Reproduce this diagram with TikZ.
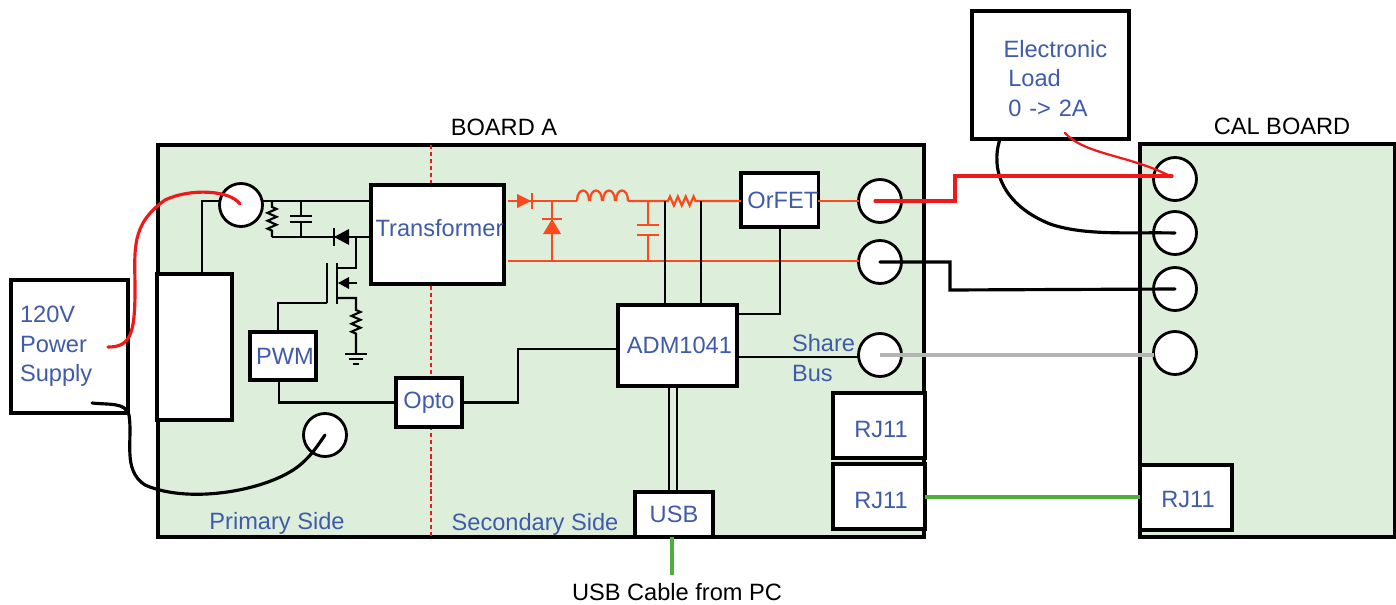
\documentclass[tikz,border=0pt]{standalone}
\usepackage{fontspec}
\setmainfont{Liberation Sans}
\usepackage{tikz}
\usetikzlibrary{arrows.meta,calc,decorations.pathmorphing}
\definecolor{cBoard}{HTML}{DDEFDB}
\definecolor{cBlue}{HTML}{3F5BA9}
\definecolor{cPwr}{HTML}{FA4A1E}
\definecolor{cRed}{HTML}{F01818}
\definecolor{cGreen}{HTML}{4FAE3C}
\definecolor{cGrey}{HTML}{B4B4B4}
\tikzset{
  blk/.style   ={draw=black,fill=white,line width=2.25pt,anchor=north west,inner sep=0pt,
                 align=center,text=cBlue},
  board/.style ={blk,fill=cBoard},
  rj/.style    ={blk,minimum width=92*0.25mm,minimum height=65*0.25mm,text height=17.5pt},
  jack/.style  ={circle,draw=black,fill=white,line width=2pt,minimum size=43*0.25mm,inner sep=0pt},
  lbl/.style   ={inner sep=0pt,text=black},
  blbl/.style  ={inner sep=0pt,text=cBlue},
  wire/.style  ={draw=black,line width=1.5pt},
  pwr/.style   ={draw=cPwr,line width=1.6pt},
  lead/.style  ={line width=2.25pt,line cap=round},
  zz/.style    ={decorate,decoration={zigzag,segment length=5.6pt,amplitude=3.2pt}},
}
\begin{document}
\begin{tikzpicture}[x=0.25mm,y=0.25mm,font=\fontsize{16.8}{21}\selectfont,every node/.style={outer sep=0pt}]
\useasboundingbox (0,0) rectangle (1396,-605);
\node[board,minimum width=766*0.25mm,minimum height=392*0.25mm] (brdA) at (158,-145) {};
\node[board,minimum width=255*0.25mm,minimum height=393*0.25mm] (brdC) at (1140,-144) {};
\node[lbl] (brdAt) at (504,-127) {BOARD A};
\node[lbl] (brdCt) at (1282,-126) {CAL BOARD};
\draw[cRed,densely dashed,line width=1.3pt] (brdA.north -| 431,0) -- (brdA.south -| 431,0);

\node[blk,minimum width=117*0.25mm,minimum height=133*0.25mm,text width=99*0.25mm,align=left] (psu) at (11,-280)
  {120V\\Power\\Supply};
\node[blk,minimum width=75*0.25mm,minimum height=146*0.25mm] (rect) at (157,-274) {};
\node[blk,minimum width=133*0.25mm,minimum height=99*0.25mm,text depth=3.2mm] (xfmr) at (371,-185) {\hspace*{1mm}Transformer};
\node[blk,minimum width=66*0.25mm,minimum height=48*0.25mm] (pwm) at (250,-332) {\hspace*{1mm}PWM};
\node[blk,minimum width=66*0.25mm,minimum height=49*0.25mm] (opto) at (396,-378) {Opto};
\node[blk,minimum width=119*0.25mm,minimum height=81*0.25mm] (adm) at (618,-305) {\hspace*{1mm}ADM1041};
\node[blk,minimum width=77*0.25mm,minimum height=54*0.25mm] (orfet) at (741,-173) {\hspace*{1.6mm}OrFET};
\node[blk,minimum width=78*0.25mm,minimum height=45*0.25mm] (usb) at (635,-492) {USB};
\node[rj] (rjA) at (833,-393) {\hspace*{1mm}RJ11};
\node[rj] (rjB) at (833,-464) {\hspace*{1mm}RJ11};
\node[rj,text height=14pt] (rjC) at (1140,-465) {\hspace*{1mm}RJ11};
\node[blk,minimum width=157*0.25mm,minimum height=128*0.25mm,text width=126*0.25mm,align=left] (eload) at (972,-11)
  {\rule{0pt}{17pt}\hspace*{4mm}Electronic\\\hspace*{5.2mm}Load\\\hspace*{5.2mm}0 -> 2A};

\node[blbl] (sideP) at (277,-523) {Primary Side};
\node[blbl] (sideS) at (535,-524) {Secondary Side};
\node[blbl,align=left,anchor=west] (share) at (792,-358) {Share\\Bus};
\node[lbl] (cable) at (677,-592) {USB Cable from PC};

\node[jack] (jP) at (241,-205) {};
\node[jack] (jN) at (325,-435) {};
\node[jack] (j1) at (880,-201) {};
\node[jack] (j2) at (880,-262) {};
\node[jack] (j3) at (880,-355) {};
\node[jack] (c1) at (1175,-179) {};
\node[jack] (c2) at (1175,-233) {};
\node[jack] (c3) at (1175,-289) {};
\node[jack] (c4) at (1175,-353) {};

% primary side
\coordinate (pR) at (272,-201);
\coordinate (pC) at (301,-201);
\coordinate (pB) at (272,-237);
\coordinate (pD) at (356,-237);
\coordinate (mG) at (327,-303);
\draw[wire] (rect.north -| 202,0) |- (jP.west |- pR);
\draw[wire] (jP.east |- pR) -- (xfmr.west |- pR);
\draw[wire] (pR) -- ++(0,-6) decorate[zz] {-- ++(0,-24)} -- (pB);
\draw[wire] (pC) -- ++(0,-15) ++(-11,0) -- ++(22,0) ++(-22,-6) -- ++(22,0) ++(-11,0) -- (pC |- pB);
\draw[wire] (pB) -- (xfmr.west |- pB);
\fill (334,-237) -- (349,-229) -- (349,-245) -- cycle;
\draw[wire] (334,-228) -- (334,-246);
\draw[wire] (pD) |- (337,-268);
\draw[wire] (337,-263) -- (337,-304);
\draw[wire] (mG |- 0,-263) -- (mG);
\draw[wire] (mG) -| (pwm.north -| 278,0);
\fill (338,-283) -- (349,-277) -- (349,-289) -- cycle;
\draw[wire] (349,-283) -- (357,-283);
\draw[wire] (337,-298) -| (356,-310) decorate[zz] {-- (356,-335)} -- (356,-354);
\draw[wire] (345,-354) -- (367,-354) (349,-359) -- (363,-359) (353,-364) -- (359,-364);
\draw[wire] (pwm.south -| 279,0) |- (opto.west);
\draw[wire] (opto.east) -| (518,-349) -- (adm.west |- 518,-349);

% secondary side
\coordinate (sT) at (508,-201);
\coordinate (sB) at (508,-261);
\draw[pwr] (sT) -- (577,-201);
\fill[cPwr] (531,-201) -- (517,-194) -- (517,-208) -- cycle;
\draw[pwr] (532,-193) -- (532,-209);
\draw[pwr] (552,-201) -- (552,-261);
\fill[cPwr] (552,-219) -- (543,-234) -- (561,-234) -- cycle;
\draw[pwr] (542,-219) -- (562,-219);
\foreach \x in {577,590,603,616}
  {\draw[pwr] (\x,-201) .. controls (\x,-187) and (\x+12,-187) .. (\x+12,-201);}
\draw[pwr] (628,-201) -- (668,-201) decorate[zz] {-- (697,-201)} -- (orfet.west |- 697,-201);
\draw[pwr] (648,-201) -- (648,-225) (637,-225) -- (659,-225) (637,-235) -- (659,-235) (648,-235) -- (648,-261);
\draw[pwr] (orfet.east |- sT) -- (j1.west |- sT);
\draw[pwr] (sB) -- (j2.west |- sB);
\draw[wire] (665,-201) -- (adm.north -| 665,0);
\draw[wire] (701,-201) -- (adm.north -| 701,0);
\draw[wire] (orfet.south) |- (adm.east |- 0,-314);
\draw[wire] (adm.east |- 0,-357) -- (j3.west |- 0,-357);
\draw[wire] (adm.south -| 669,0) -- (usb.north -| 669,0);
\draw[wire] (adm.south -| 677,0) -- (usb.north -| 677,0);
\draw[cGreen,line width=2.25pt] (usb.south -| 672,0) -- (672,-575);
\draw[cGreen,line width=2.25pt] (rjB.east |- 0,-497) -- (rjC.west |- 0,-497);
\draw[cGrey,line width=2.25pt] (j3.center) -- (c4.west |- j3.center);

% leads
\draw[black,lead] (j2.center) -- (950,-262) -- (950,-290) -- (c3.center);
\draw[black,lead] (1000,-139) .. controls (990,-170) and (1003,-205) .. (1050,-224) .. controls (1085,-236) and (1130,-232) .. (c2.center);
\draw[black,lead] (92,-403) .. controls (110,-405) and (125,-402) .. (129,-415) .. controls (133,-440) and (122,-470) .. (145,-485) .. controls (190,-505) and (270,-490) .. (300,-465) .. controls (312,-455) and (318,-445) .. (jN.center);
\draw[cRed,lead] (108,-347) .. controls (130,-347) and (135,-335) .. (135,-290) .. controls (135,-250) and (130,-225) .. (165,-200) .. controls (190,-188) and (230,-190) .. (240,-204);
\draw[cRed,lead] (875,-201) -- (955,-201) -- (955,-176) -- (1172,-176);
\draw[cRed,line width=1.6pt,line cap=round] (1065,-133) .. controls (1085,-155) and (1130,-155) .. (1172,-177);
\end{tikzpicture}
\end{document}
